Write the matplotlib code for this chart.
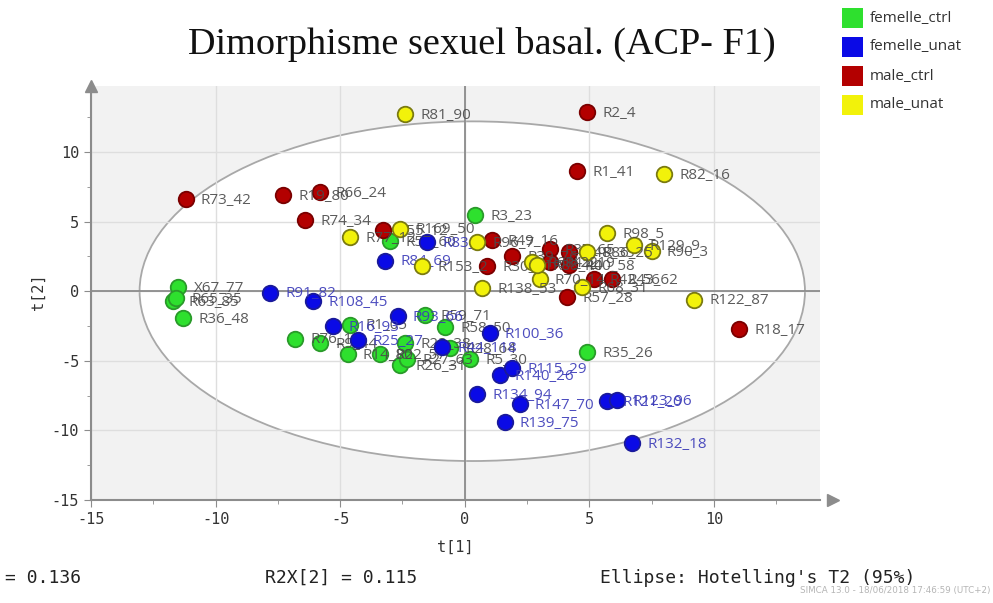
import matplotlib
matplotlib.use("Agg")
import matplotlib.pyplot as plt
from matplotlib.patches import Ellipse, Rectangle
import numpy as np

plt.rcParams["axes.unicode_minus"] = False

# --- donnees ---
groups = ["femelle_ctrl", "femelle_unat", "male_ctrl", "male_unat"]

fc_names = ["X67_77", "R63_85", "R65_35", "R36_48", "R3_23", "R35_26", "R52_60",
            "R76_12", "R9_44", "R1_05", "R14_80", "R22_57", "R26_31", "R27_63",
            "R59_71", "R58_50", "R28_64", "R5_30", "R23_38"]
fc_x = [-11.5, -11.7, -11.6, -11.3, 0.4, 4.9, -3.0, -6.8, -5.8, -4.6, -4.7, -3.4,
        -2.6, -2.3, -1.6, -0.8, -0.6, 0.2, -2.4]
fc_y = [0.3, -0.7, -0.5, -1.9, 5.5, -4.4, 3.6, -3.4, -3.7, -2.4, -4.5, -4.5,
        -5.3, -4.9, -1.7, -2.6, -4.1, -4.9, -3.7]

fu_names = ["R91_82", "R108_45", "R84_69", "R83_9", "R16_93", "R25_27", "R93_66",
            "R44_118", "R100_36", "R140_26", "R115_29", "R134_94", "R147_70",
            "R139_75", "R121_20", "R123_96", "R132_18"]
fu_x = [-7.8, -6.1, -3.2, -1.5, -5.3, -4.3, -2.7, -0.9, 1.0, 1.4, 1.9, 0.5, 2.2,
        1.6, 5.7, 6.1, 6.7]
fu_y = [-0.1, -0.7, 2.2, 3.5, -2.5, -3.5, -1.8, -4.0, -3.0, -6.0, -5.5, -7.4,
        -8.1, -9.4, -7.9, -7.8, -10.9]

mc_names = ["R2_4", "R1_41", "R73_42", "R19_80", "R66_24", "R74_34", "R55_12",
            "R30_41", "R39_76", "R49_16", "R37_65", "R45_19", "R48_33", "R40_58",
            "R42_56", "R43_62", "R57_28", "R18_17"]
mc_x = [4.9, 4.5, -11.2, -7.3, -5.8, -6.4, -3.3, 0.9, 1.9, 1.1, 3.4, 3.4, 4.2,
        4.2, 5.2, 5.9, 4.1, 11.0]
mc_y = [12.9, 8.6, 6.6, 6.9, 7.1, 5.1, 4.4, 1.8, 2.5, 3.7, 3.0, 2.1, 2.8, 1.9,
        0.9, 0.9, -0.4, -2.7]

mu_names = ["R81_90", "R82_16", "R98_5", "R129_9", "R90_3", "R122_87", "R138_53",
            "R77_12", "R169_50", "R153_2", "R96_7", "R61_22", "R70_14", "R68_31",
            "R86_25", "R88_40"]
mu_x = [-2.4, 8.0, 5.7, 6.8, 7.5, 9.2, 0.7, -4.6, -2.6, -1.7, 0.5, 2.7, 3.0, 4.7,
        4.9, 2.9]
mu_y = [12.7, 8.4, 4.2, 3.3, 2.9, -0.6, 0.2, 3.9, 4.5, 1.8, 3.5, 2.1, 0.9, 0.3,
        2.8, 1.9]

# --- styles ---
fill = {"femelle_ctrl": "#2ee02e", "femelle_unat": "#0a0ae6",
        "male_ctrl": "#b30000", "male_unat": "#f2f20a"}
edge = {"femelle_ctrl": "#2a9a2a", "femelle_unat": "#1a1a9a",
        "male_ctrl": "#7a0000", "male_unat": "#7a7a10"}
txtcol = {"femelle_ctrl": "#4a4a4a", "femelle_unat": "#3a3ab8",
          "male_ctrl": "#4a4a4a", "male_unat": "#4a4a4a"}

W, H = 993, 603
fig = plt.figure(figsize=(W / 100, H / 100), dpi=100)
fig.patch.set_facecolor("white")

# axes placés en pixels : x=-15 a 91px, y=-15 a 500px
px_x, px_y = 24.92, 13.92
left, right, top, bottom = 91, 820, 86, 500
ax = fig.add_axes([left / W, 1 - bottom / H, (right - left) / W, (bottom - top) / H])
ax.set_xlim(-15, -15 + (right - left) / px_x)
ax.set_ylim(-15, -15 + (bottom - top) / px_y)
ax.set_facecolor("#f2f2f2")

ell = Ellipse((0.3, 0), 2 * 13.35, 2 * 12.2, facecolor="white",
              edgecolor="#a8a8a8", lw=1.3, zorder=0.2)
ax.add_patch(ell)

ax.set_axisbelow(True)
ax.set_xticks([-15, -10, -5, 0, 5, 10])
ax.set_yticks([-15, -10, -5, 0, 5, 10])
ax.set_xticks(np.arange(-12.5, 14, 5), minor=True)
ax.set_yticks(np.arange(-12.5, 14, 5), minor=True)
ax.grid(True, which="major", color="#dedede", lw=1.0)
ax.axhline(0, color="#8c8c8c", lw=1.3, zorder=0.6)
ax.axvline(0, color="#8c8c8c", lw=1.3, zorder=0.6)

for s in ["top", "right"]:
    ax.spines[s].set_visible(False)
for s in ["left", "bottom"]:
    ax.spines[s].set_color("#8c8c8c")
    ax.spines[s].set_linewidth(1.5)
ax.tick_params(which="major", length=5, color="#8c8c8c", labelsize=11,
               labelcolor="#333333")
ax.tick_params(which="minor", length=3, color="#8c8c8c")
for lab in ax.get_xticklabels() + ax.get_yticklabels():
    lab.set_fontfamily("DejaVu Sans Mono")

# fleches des axes
ax.plot(1.018, 0, ">", transform=ax.transAxes, clip_on=False, color="#8c8c8c",
        ms=9, mec="#8c8c8c")
ax.plot(0, 1.0, "^", transform=ax.transAxes, clip_on=False, color="#8c8c8c",
        ms=9, mec="#8c8c8c")

data = [("femelle_ctrl", fc_names, fc_x, fc_y),
        ("femelle_unat", fu_names, fu_x, fu_y),
        ("male_ctrl", mc_names, mc_x, mc_y),
        ("male_unat", mu_names, mu_x, mu_y)]

z = 3
for g, names, xs, ys in data:
    ax.scatter(xs, ys, s=125, c=fill[g], edgecolors=edge[g], linewidths=1.3,
               zorder=z)
    for n, x, y in zip(names, xs, ys):
        ax.annotate(n, (x, y), xytext=(11, -1), textcoords="offset points",
                    va="center", ha="left", fontsize=11, family="Open Sans",
                    color=txtcol[g], zorder=z + 0.5, alpha=0.9)
    z += 1

ax.text(0.5, -0.115, "t[1]", transform=ax.transAxes, ha="center", va="center",
        fontsize=11, family="DejaVu Sans Mono", color="#333333")
fig.text(38 / W, 1 - 292 / H, "t[2]", rotation=90, ha="center", va="center",
         fontsize=11, family="DejaVu Sans Mono", color="#333333")

fig.text(482 / W, 1 - 44 / H, "Dimorphisme sexuel basal. (ACP- F1)",
         ha="center", va="center", fontsize=27.5, family="Liberation Serif",
         color="#111111")

# legende
for i, g in enumerate(groups):
    yc = 18 + i * 29
    fig.add_artist(Rectangle((842 / W, 1 - (yc + 10) / H), 21 / W, 20 / H,
                             transform=fig.transFigure, facecolor=fill[g],
                             edgecolor="none"))
    fig.text(870 / W, 1 - yc / H, g, ha="left", va="center", fontsize=11,
             family="Open Sans", color="#333333")

# bas de figure
fig.text(5 / W, 1 - 578 / H, "= 0.136", ha="left", va="center", fontsize=13,
         family="DejaVu Sans Mono", color="#222222")
fig.text(265 / W, 1 - 578 / H, "R2X[2] = 0.115", ha="left", va="center",
         fontsize=13, family="DejaVu Sans Mono", color="#222222")
fig.text(600 / W, 1 - 578 / H, "Ellipse: Hotelling's T2 (95%)", ha="left",
         va="center", fontsize=13, family="DejaVu Sans Mono", color="#222222")
fig.text(990 / W, 1 - 591 / H, "SIMCA 13.0 - 18/06/2018 17:46:59 (UTC+2)",
         ha="right", va="center", fontsize=6.3, family="DejaVu Sans",
         color="#b5b5b5")

fig.savefig("out.png", dpi=100)
